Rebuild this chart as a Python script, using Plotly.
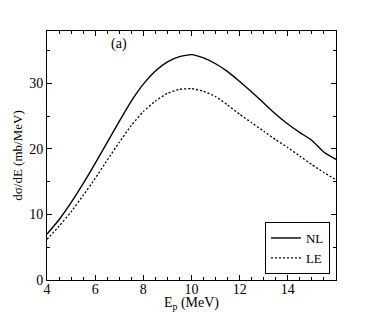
import plotly.graph_objects as go

energy = [4, 4.5, 5, 5.5, 6, 6.5, 7, 7.5, 8, 8.5, 9, 9.5, 10, 10.5, 11, 11.5,
          12, 12.5, 13, 13.5, 14, 14.5, 15, 15.5, 16]
nl = [7.0, 9.2, 11.8, 14.7, 17.8, 21.0, 24.2, 27.3, 29.9, 31.9, 33.3, 34.1, 34.4,
      33.9, 33.0, 31.8, 30.3, 28.7, 27.0, 25.3, 23.8, 22.5, 21.3, 19.5, 18.4]
le = [6.2, 8.2, 10.4, 12.9, 15.5, 18.3, 21.0, 23.6, 25.7, 27.3, 28.5, 29.1, 29.2,
      28.8, 28.0, 26.7, 25.3, 24.0, 22.7, 21.4, 20.2, 18.9, 17.6, 16.4, 15.3]
x_ticks = [4, 6, 8, 10, 12, 14]
y_ticks = [0, 10, 20, 30]

FONT = "Liberation Serif, Times New Roman, DejaVu Serif, serif"

fig = go.Figure()
fig.add_trace(go.Scatter(x=energy, y=nl, mode="lines", name="NL",
                         line=dict(color="black", width=1.4, shape="spline", smoothing=0.4)))
fig.add_trace(go.Scatter(x=energy, y=le, mode="lines", name="LE",
                         line=dict(color="black", width=1.3, dash="2px,2px", shape="spline", smoothing=0.4)))

axis_common = dict(showline=True, linecolor="black", linewidth=1, mirror="ticks",
                   ticks="inside", ticklen=5, tickcolor="black", tickwidth=1,
                   showgrid=False, zeroline=False, automargin=False,
                   tickfont=dict(family=FONT, size=14, color="black"))

fig.update_xaxes(range=[4, 16], tickvals=x_ticks, ticktext=[str(v) for v in x_ticks],
                 minor=dict(ticks="inside", dtick=0.5, ticklen=3, tickcolor="black", showgrid=False),
                 title=dict(text="E<sub>p</sub> (MeV)", font=dict(family=FONT, size=14, color="black"), standoff=0),
                 ticklabelstandoff=-4,
                 **axis_common)
fig.update_yaxes(range=[0, 38], tickvals=y_ticks, ticktext=[str(v) for v in y_ticks],
                 minor=dict(ticks="inside", dtick=5, ticklen=3, tickcolor="black", showgrid=False),
                 title=dict(text="dσ/dE (mb/MeV)", font=dict(family=FONT, size=13, color="black"), standoff=3),
                 **axis_common)

fig.add_annotation(x=7.0, y=36.0, text="(a)", showarrow=False,
                   font=dict(family=FONT, size=14, color="black"))

fig.update_layout(
    width=366, height=304,
    margin=dict(l=39, r=38, t=23, b=32),
    plot_bgcolor="white", paper_bgcolor="white",
    legend=dict(x=0.979, y=0.024, xanchor="right", yanchor="bottom",
                bordercolor="black", borderwidth=1, bgcolor="white",
                font=dict(family=FONT, size=13, color="black"),
                tracegroupgap=0, itemwidth=30),
    showlegend=True,
)

fig.write_html("out.html")
